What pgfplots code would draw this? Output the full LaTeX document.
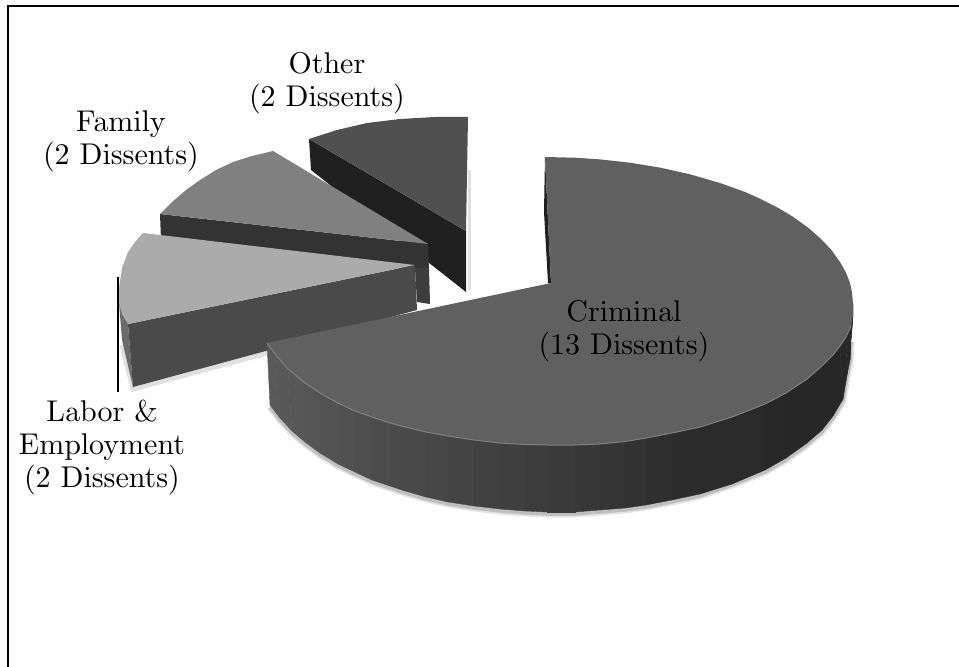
\documentclass[border=0pt]{standalone}
\usepackage{pgfplots}
\pgfplotsset{compat=1.18}
\definecolor{critop}{gray}{0.375}
\definecolor{oth}{gray}{0.315}
\definecolor{othside}{gray}{0.125}
\definecolor{fam}{gray}{0.5}
\definecolor{famside}{gray}{0.2}
\definecolor{famlow}{gray}{0.24}
\definecolor{lab}{gray}{0.67}
\definecolor{labside}{gray}{0.29}
\definecolor{labcurve}{gray}{0.42}
\definecolor{rim}{gray}{0.5}
% the 10pt design of the roman face, used at display size for its wider letters
\font\labelfont=cmr10 at 30bp
\tikzset{lbl/.style={align=center, font=\labelfont, text=black, inner sep=0pt,
  execute at begin node={\baselineskip=33bp\relax}}}
\begin{document}
\begin{tikzpicture}
\begin{axis}[
  hide axis, scale only axis, width=959bp, height=667bp,
  xmin=0, xmax=959, ymin=0, ymax=667, y dir=reverse,
  no markers, clip=true,
  colormap/blackwhite, point meta min=0, point meta max=1
]
% page background
\addplot[fill=white, draw=none] coordinates {(0,0)(959,0)(959,667)(0,667)} --cycle;
% outer frame, open on the right and at the bottom
\addplot[black, line width=2bp] coordinates {(959,6)(8,6)(8,667)};

% Other: soft edge, side wall, top face
\addplot[draw=black!12, line width=3bp] coordinates {(469,170)(469,290)};
\addplot[fill=othside, draw=none] coordinates {(309,139)(466,231)(466,292)(311,170)} --cycle;
\addplot[fill=oth, draw=none] coordinates {(309,139)(337,130)(367,123)(400,119)(435,117)(468,117)(466,231)} --cycle;

% Family
\addplot[fill=famside, draw=none] coordinates {(160,214)(428,244)(429,270)(415,270)(161,240)} --cycle;
\addplot[fill=famlow, draw=none] coordinates {(415,268)(429,268)(430,304)(417,302)} --cycle;
\addplot[fill=fam, draw=none] coordinates {(273,151)(428,244)(160,214)(172,202)(186,190)(200,180)(216,170)(233,162)(252,156)} --cycle;

% Labor & Employment
\addplot[draw=black!12, line width=5bp] coordinates {(122,345)(133,389)(270,352)};
\addplot[fill=labcurve, draw=none] coordinates {(119,303)(128,324)(133,387)(122,340)} --cycle;
\addplot[fill=labside, draw=none] coordinates {(128,324)(415,265)(417,310)(133,387)} --cycle;
\addplot[fill=lab, draw=none] coordinates {(143,233)(415,265)(128,324)(122,314)(119,303)(119,288)(122,268)(128,252)(135,242)} --cycle;
\addplot[black, line width=1.5bp] coordinates {(118,277)(118,392)};

% Criminal: soft shadow under the wall, left sliver, wall, top face, rim
\addplot[draw=black!10, line width=7bp] coordinates {(270,407)(280,420)(292,433)(305,444)(320,455)(338,466)(355,474)(372,482)(390,488)(405,493)(426,499)(448,504)(474,508)(500,511)(525,513)(547,514)(575,514)(600,512)(625,510)(646,507)(672,502)(700,496)(732,485)(765,472)(786,460)(807,445)(822,432)(833,418)(843,401)(847,377)(850,362)(851,342)};
\addplot[draw=black!25, line width=3.5bp] coordinates {(270,407)(280,420)(292,433)(305,444)(320,455)(338,466)(355,474)(372,482)(390,488)(405,493)(426,499)(448,504)(474,508)(500,511)(525,513)(547,514)(575,514)(600,512)(625,510)(646,507)(672,502)(700,496)(732,485)(765,472)(786,460)(807,445)(822,432)(833,418)(843,401)(847,377)(850,362)(851,342)};
\addplot[fill=othside, draw=none] coordinates {(545,157)(551,283)(548,283)(544,212)} --cycle;
\addplot[surf, shader=flat, mesh/rows=2, mesh/ordering=y varies, point meta=explicit]
  table[meta=c] {
x y c
267 343 0.35
270 405 0.35
275 354 0.345
280 418 0.345
288 369 0.34
292 431 0.34
305 383 0.335
305 442 0.335
320 393 0.33
320 453 0.33
338 403 0.32
338 464 0.32
355 411 0.31
355 472 0.31
372 417 0.30
372 480 0.30
390 423 0.29
390 486 0.29
405 427 0.285
405 491 0.285
426 432 0.28
426 497 0.28
448 436 0.27
448 502 0.27
474 440 0.26
474 506 0.26
500 443 0.25
500 509 0.25
525 444.5 0.24
525 511 0.24
547 445 0.23
547 512 0.23
575 445 0.22
575 512 0.22
600 444 0.21
600 510 0.21
625 441.5 0.20
625 508 0.20
646 438 0.19
646 505 0.19
672 433 0.175
672 500 0.175
700 427 0.17
700 494 0.17
732 417 0.165
732 484 0.165
765 404 0.16
765 470 0.16
786 393 0.155
786 458 0.155
807 379 0.15
807 443 0.15
822 366 0.15
822 430 0.15
833 355 0.15
833 416 0.15
840 346 0.15
843 399 0.15
846 337 0.15
847 375 0.15
851 326 0.15
850 360 0.15
853 315 0.15
851 340 0.15
853 303 0.15
853 310 0.15
};
\addplot[fill=critop, draw=none] coordinates {
  (551,283)(545,157)(575,157.7)(600,159.4)(630,162.7)(660,167.6)(690,174.3)(720,183)(745,192)(760,198.7)
  (778,207.8)(793,216.8)(808,227.6)(820,238)(831,249.5)(840,262)(846,272.7)(850,283)(852,292)(853,304)
  (853,315)(851,326)(846,337)(840,346)(833,355)(822,366)(807,379)(786,393)(765,404)(732,417)(700,427)(672,433)
  (646,438)(625,441.5)(600,444)(575,445)(547,445)(525,444.5)(500,443)(474,440)(448,436)(426,432)
  (405,427)(390,423)(372,417)(355,411)(338,403)(320,393)(305,383)(288,369)(275,354)(267,343)} --cycle;
\addplot[draw=rim, line width=1bp] coordinates {
  (851,326)(846,337)(840,346)(833,355)(822,366)(807,379)(786,393)(765,404)(732,417)(700,427)(672,433)
  (646,438)(625,441.5)(600,444)(575,445)(547,445)(525,444.5)(500,443)(474,440)(448,436)(426,432)
  (405,427)(390,423)(372,417)(355,411)(338,403)(320,393)(305,383)(288,369)(275,354)(267,343)};

% category labels
\node[lbl] at (axis cs:327,83) {Other\\(2 Dissents)};
\node[lbl] at (axis cs:121,141) {Family\\(2 Dissents)};
\node[lbl] at (axis cs:102,447.5) {Labor \&\\Employment\\(2 Dissents)};
\node[lbl] at (axis cs:624,331) {Criminal\\(13 Dissents)};
\end{axis}
\end{tikzpicture}
\end{document}
